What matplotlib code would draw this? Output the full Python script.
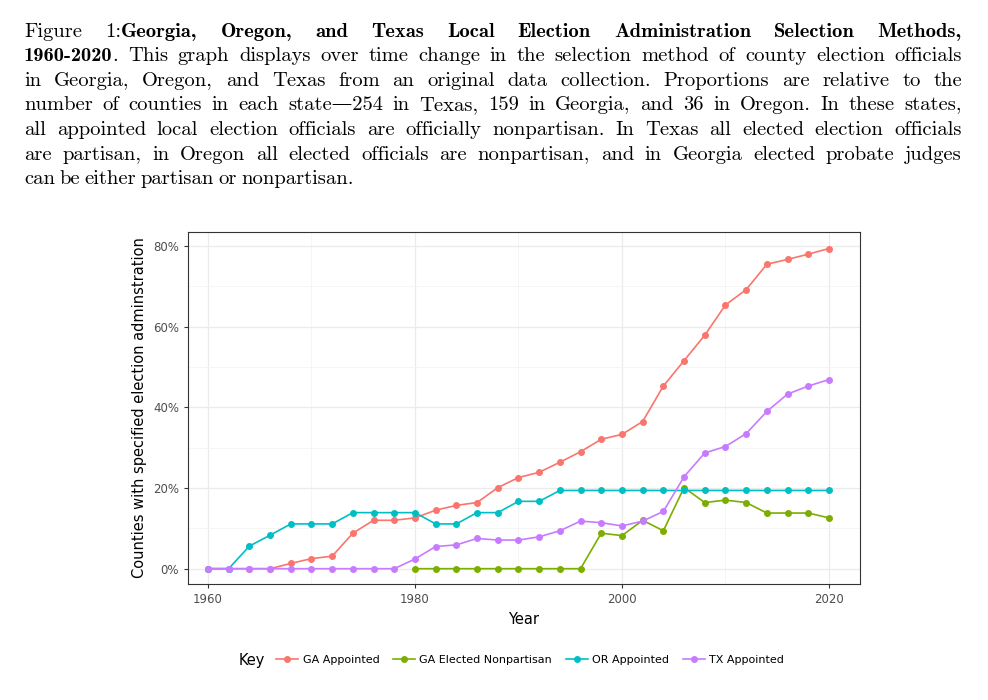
import matplotlib.pyplot as plt
import numpy as np
from matplotlib.ticker import MultipleLocator, FuncFormatter

years = list(range(1960, 2021, 2))
ga_appointed = [0, 0, 0, 0, 1.3, 2.5, 3.1, 8.8, 12.0, 12.0, 12.6, 14.5, 15.7, 16.4, 20.1, 22.6,
                23.9, 26.4, 29.0, 32.1, 33.3, 36.5, 45.3, 51.6, 57.9, 65.4, 69.2, 75.5, 76.7, 78.0, 79.4]
ga_elected_years = list(range(1980, 2021, 2))
ga_elected_np = [0, 0, 0, 0, 0, 0, 0, 0, 0, 8.8, 8.2, 12.0, 9.4, 20.1, 16.4, 17.0, 16.4,
                 13.8, 13.8, 13.8, 12.6]
or_appointed = [0, 0, 5.6, 8.3, 11.1, 11.1, 11.1, 13.9, 13.9, 13.9, 13.9, 11.1, 11.1, 13.9, 13.9,
                16.7, 16.7] + [19.4] * 14
tx_appointed = [0, 0, 0, 0, 0, 0, 0, 0, 0, 0, 2.4, 5.5, 5.9, 7.5, 7.1, 7.1, 7.9, 9.4, 11.8, 11.4,
                10.6, 11.8, 14.2, 22.8, 28.7, 30.3, 33.5, 39.0, 43.3, 45.3, 46.9]

series = [("GA Appointed", years, ga_appointed, "#F8766D"),
          ("GA Elected Nonpartisan", ga_elected_years, ga_elected_np, "#7CAE00"),
          ("OR Appointed", years, or_appointed, "#00BFC4"),
          ("TX Appointed", years, tx_appointed, "#C77CFF")]

fig = plt.figure(figsize=(9.88, 7), dpi=100)

# caption, LaTeX-ish, justified
FS = 14.8
reg = dict(family=["cmr10", "DejaVu Serif"], fontsize=FS)
bold = dict(family=["cmb10", "DejaVu Serif"], fontsize=FS)
fig.canvas.draw()
r = fig.canvas.get_renderer()
LEFT, RIGHT = 24, 962


def put_line(pieces, y, justify=True):
    # pieces: list of (text, style); words are split on spaces
    words = []
    for txt, kw in pieces:
        for i, w in enumerate(txt.split(" ")):
            if w == "":
                continue
            glue = (i == 0 and not txt.startswith(" ") and words)
            words.append((w, kw, glue))
    arts = []
    for w, kw, glue in words:
        t = fig.text(0, 1 - y / 700, w, va="baseline", ha="left", **kw)
        arts.append((t, t.get_window_extent(renderer=r).width, glue))
    n_gaps = sum(1 for a in arts[1:] if not a[2])
    total = sum(a[1] for a in arts)
    gap = (RIGHT - LEFT - total) / n_gaps if justify and n_gaps else 4.5
    x = LEFT
    for i, (t, wd, glue) in enumerate(arts):
        if i > 0 and not glue:
            x += gap
        t.set_x(x / 988)
        x += wd


put_line([("Figure 1: ", reg),
          ("Georgia, Oregon, and Texas Local Election Administration Selection Methods,", bold)], 37)
put_line([("1960-2020", bold),
          (". This graph displays over time change in the selection method of county election officials", reg)], 61)
lines = ["in Georgia, Oregon, and Texas from an original data collection. Proportions are relative to the",
         "number of counties in each state\u2014254 in Texas, 159 in Georgia, and 36 in Oregon. In these states,",
         "all appointed local election officials are officially nonpartisan. In Texas all elected election officials",
         "are partisan, in Oregon all elected officials are nonpartisan, and in Georgia elected probate judges"]
for i, ln in enumerate(lines):
    put_line([(ln, reg)], 86 + 24.5 * i)
put_line([("can be either partisan or nonpartisan.", reg)], 86 + 24.5 * 4, justify=False)

ax = fig.add_axes([188 / 988, 1 - 584 / 700, 672 / 988, 352 / 700])
for name, xs, ys, c in series:
    ax.plot(xs, ys, color=c, lw=1.2, marker="o", ms=4, label=name)

ax.set_xlim(1958.07, 2023)
ax.set_ylim(-3.8, 83.5)
ax.xaxis.set_major_locator(MultipleLocator(20))
ax.xaxis.set_minor_locator(MultipleLocator(10))
ax.yaxis.set_major_locator(MultipleLocator(20))
ax.yaxis.set_minor_locator(MultipleLocator(10))
ax.yaxis.set_major_formatter(FuncFormatter(lambda v, p: f"{v:.0f}%"))
ax.grid(which="major", color="#EBEBEB", lw=0.9)
ax.grid(which="minor", color="#F4F4F4", lw=0.6)
ax.set_axisbelow(True)
for s in ax.spines.values():
    s.set_color("#333333")
    s.set_linewidth(0.8)
ax.tick_params(which="minor", length=0)
ax.tick_params(which="major", length=3, color="#333333", labelsize=8.5, labelcolor="#4D4D4D")
ax.set_xlabel("Year", fontsize=10.5)
ax.set_ylabel("Counties with specified election adminstration", fontsize=10.5)

fig.text(239 / 988, 1 - 661 / 700, "Key", fontsize=10.5, va="center")
handles, labels = ax.get_legend_handles_labels()
fig.legend(handles, labels, ncol=4, loc="center left", bbox_to_anchor=(266 / 988, 1 - 660 / 700),
           frameon=False, fontsize=8, handlelength=2, columnspacing=1.2, handletextpad=0.4)

fig.savefig("out.png", dpi=100)
